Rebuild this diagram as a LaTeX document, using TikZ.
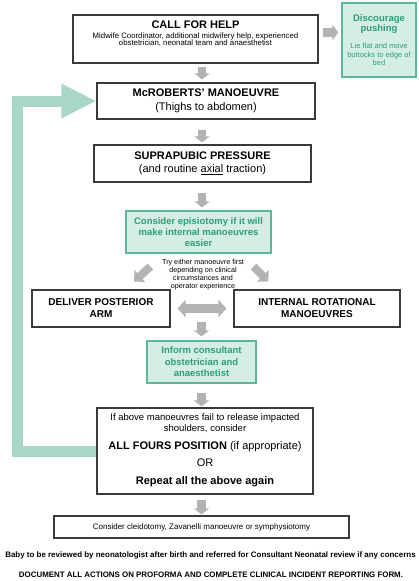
\documentclass[tikz,border=0pt]{standalone}
\usepackage{fontspec}
\setmainfont{Liberation Sans}
\usetikzlibrary{arrows.meta,calc}
\definecolor{gfill}{HTML}{D5EEE5}
\definecolor{gline}{HTML}{5BB896}
\definecolor{gtext}{HTML}{2F9E76}
\definecolor{gbig}{HTML}{A8D7C9}
\definecolor{garr}{HTML}{B3B3B3}
\definecolor{bline}{HTML}{3A3A3A}
\begin{document}
\begin{tikzpicture}[x=1pt,y=-1pt,
  box/.style={draw=bline,line width=1.1pt,fill=white,inner sep=0pt,align=center},
  gbox/.style={draw=gline,line width=1.1pt,fill=gfill,inner sep=0pt,align=center,text=gtext},
  grayarr/.style={draw=garr,line width=8.5pt,-{Triangle[length=6pt,width=15pt]}},
  graydbl/.style={draw=garr,line width=9pt,{Triangle[length=8pt,width=17pt]}-{Triangle[length=8pt,width=17pt]}},
  graydiag/.style={draw=garr,line width=8pt,-{Triangle[length=8pt,width=16pt]}},
  bigarrow/.style={draw=gbig,line width=11pt,line join=miter,-{Triangle[length=35pt,width=32pt]}},
  titlef/.style={font=\fontsize{11}{13.5}\selectfont},
  plain/.style={inner sep=0pt,align=center},
]
\useasboundingbox (0,0) rectangle (418,581);
\coordinate (colx) at (202,0);

% boxes
\node[box,minimum width=245pt,minimum height=48pt] (call) at (195.5,39) {};
\node[plain,font=\fontsize{7.8}{7.6}\selectfont] (calltxt) at (195.5,34)
  {{\fontsize{11}{12}\selectfont\bfseries CALL FOR HELP}\\[1.5pt]Midwife Coordinator, additional midwifery help, experienced\\obstetrician, neonatal team and anaesthetist};

\node[gbox,minimum width=74pt,minimum height=74pt,font=\fontsize{7.5}{8.3}\selectfont] (disc) at (379,40)
  {{\fontsize{9.5}{10.5}\selectfont\bfseries Discourage}\\{\fontsize{9.5}{10.5}\selectfont\bfseries pushing}\\[9pt]Lie flat and move\\buttocks to edge of\\bed};

\node[box,titlef,minimum width=218pt,minimum height=36pt] (mcr) at (206,101)
  {\textbf{McROBERTS' MANOEUVRE}\\(Thighs to abdomen)};

\node[box,titlef,minimum width=217pt,minimum height=37pt] (sup) at (202.5,163.5)
  {\textbf{SUPRAPUBIC PRESSURE}\\(and routine \underline{axial} traction)};

\node[gbox,minimum width=145pt,minimum height=42pt,font=\fontsize{9.5}{11}\selectfont\bfseries] (epi) at (198.5,232)
  {Consider episiotomy if it will\\make internal manoeuvres\\easier};

\node[plain,font=\fontsize{7.2}{8}\selectfont] (try) at (203,274.5)
  {Try either manoeuvre first\\depending on clinical\\circumstances and\\operator experience};

\node[box,titlef,font=\bfseries,minimum width=138pt,minimum height=37pt] (dpa) at (101,308.5)
  {DELIVER POSTERIOR\\ARM};
\node[box,titlef,font=\bfseries,minimum width=166pt,minimum height=37pt] (irm) at (317,308.5)
  {INTERNAL ROTATIONAL\\MANOEUVRES};

\node[gbox,minimum width=109pt,minimum height=42pt,font=\fontsize{9.5}{11.5}\selectfont\bfseries] (inf) at (201.5,362)
  {Inform consultant\\obstetrician and\\anaesthetist};

\node[box,minimum width=216pt,minimum height=86pt] (big) at (205,451) {};
\node[plain,font=\fontsize{9.5}{11}\selectfont] (bigtxt) at (205,450.5)
  {If above manoeuvres fail to release impacted\\shoulders, consider\\[7pt]{\fontsize{11}{13}\selectfont\textbf{ALL FOURS POSITION} (if appropriate)}\\[6pt]{\fontsize{11}{13}\selectfont OR}\\[7pt]{\fontsize{11}{13}\selectfont\bfseries Repeat all the above again}};

\node[box,minimum width=295pt,minimum height=22pt,font=\fontsize{8}{9}\selectfont] (cle) at (201.5,527)
  {Consider cleidotomy, Zavanelli manoeuvre or symphysiotomy};

\node[plain,font=\fontsize{7.95}{9}\selectfont\bfseries] (baby) at (210.5,555)
  {Baby to be reviewed by neonatologist after birth and referred for Consultant Neonatal review if any concerns};
\node[plain,font=\fontsize{7.9}{9}\selectfont\bfseries] (doc) at (211,575)
  {DOCUMENT ALL ACTIONS ON PROFORMA AND COMPLETE CLINICAL INCIDENT REPORTING FORM.};

% big loop arrow
\draw[bigarrow] (big.west) -- ++(-79,0) |- (mcr.west);

% grey arrows
\draw[grayarr] ($(call.east)+(4,-6.5)$) -- ($(disc.west)+(-3,-7.5)$);
\draw[grayarr] ($(call.south -| colx)+(0,3)$) -- ($(mcr.north -| colx)+(0,-3)$);
\draw[grayarr] ($(mcr.south -| colx)+(0,10)$) -- ($(sup.north -| colx)+(0,-2)$);
\draw[grayarr] ($(sup.south -| colx)+(0,10)$) -- ($(epi.north -| colx)+(0,-3)$);
\draw[graydiag] ($(epi.south west)+(25,13)$) -- ($(dpa.north)+(33,-8)$);
\draw[graydiag] ($(epi.south east)+(-18,13)$) -- ($(irm.north west)+(35,-8)$);
\draw[graydbl] ($(dpa.east)+(7,0)$) -- ($(irm.west)+(-7,0)$);
\draw[grayarr] ($(inf.north)+(0,-18)$) -- ($(inf.north)+(0,-4)$);
\draw[grayarr] ($(inf.south)+(0,9)$) -- ($(big.north -| inf.south)+(0,-1)$);
\draw[grayarr] ($(big.south -| cle.north)+(0,5)$) -- ($(cle.north)+(0,-1)$);
\end{tikzpicture}
\end{document}
